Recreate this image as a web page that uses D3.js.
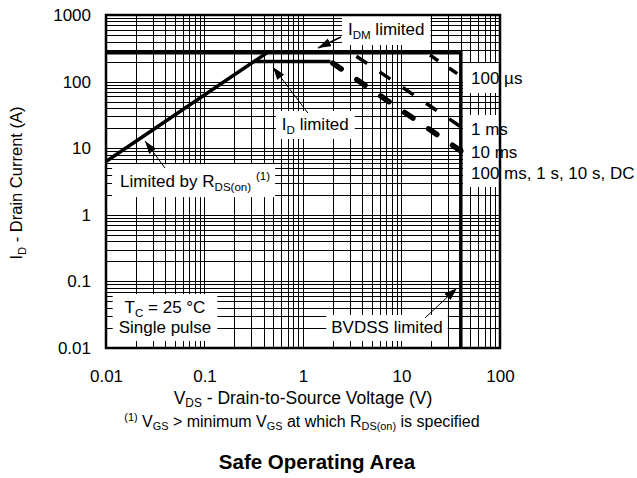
<!DOCTYPE html>
<html><head><meta charset="utf-8">
<script src="https://cdn.jsdelivr.net/npm/d3@7/dist/d3.min.js"></script>
<style>
body{margin:0;background:#fff;}
text{font-family:"Liberation Sans",Arial,Helvetica,sans-serif;fill:#000;}
</style></head><body>
<svg id="c" width="637" height="478"></svg>
<script>
// ---- data ----
const xTicks=[0.01,0.1,1,10,100];
const xTickLabels=["0.01","0.1","1","10","100"];
const yTicks=[0.01,0.1,1,10,100,1000];
const yTickLabels=["0.01","0.1","1","10","100","1000"];
const rdsLimit=[[0.01,6.3],[0.43,270]];
const idmLimit=[[0.01,270],[40,270],[40,0.01]];
const idLimit=[[0.317,200],[1.9,200]];
const pulse100us=[[18,270],[40,121]];
const pulse1ms=[[3.1,270],[40,21]];
const pulse10ms=[[1.9,200],[40,9.1]];
const pulseLabels=["100 µs","1 ms","10 ms","100 ms, 1 s, 10 s, DC"];
const pulseLabelY=[92,15.8,7.1,3.45];

// ---- layout ----
const svg=d3.select("#c");
const x=d3.scaleLog().domain([0.01,100]).range([106,500]);
const y=d3.scaleLog().domain([0.01,1000]).range([348,15]);
const FS=17, SUB=0.68;

function logGrid(lo,hi){const v=[];for(let e=Math.round(Math.log10(lo));e<Math.round(Math.log10(hi));e++)for(let k=1;k<10;k++)v.push(k*Math.pow(10,e));v.push(hi);return v;}

const gGrid=svg.append("g"), gBox=svg.append("g"), gCurve=svg.append("g"), gText=svg.append("g");

gGrid.selectAll("line.v").data(logGrid(0.01,100)).join("line")
 .attr("x1",d=>Math.round(x(d))+0.5).attr("x2",d=>Math.round(x(d))+0.5)
 .attr("y1",y(1000)).attr("y2",y(0.01)).attr("stroke","#000").attr("stroke-width",1);
gGrid.selectAll("line.h").data(logGrid(0.01,1000)).join("line")
 .attr("y1",d=>Math.round(y(d))+0.5).attr("y2",d=>Math.round(y(d))+0.5)
 .attr("x1",x(0.01)).attr("x2",x(100)).attr("stroke","#000").attr("stroke-width",1);

// axes
const ax=svg.append("g").attr("transform",`translate(0,${y(0.01)})`)
 .call(d3.axisBottom(x).tickValues(xTicks).tickFormat((d,i)=>xTickLabels[i]).tickSize(0).tickPadding(22));
const ay=svg.append("g").attr("transform",`translate(${x(0.01)},0)`)
 .call(d3.axisLeft(y).tickValues(yTicks).tickFormat((d,i)=>yTickLabels[i]).tickSize(0).tickPadding(15));
[ax,ay].forEach(a=>{a.select(".domain").remove();a.selectAll("text").attr("font-size",FS).attr("font-family",null);});

// rich text helper
function rich(g,px,py,parts,anchor,size,weight,subShift,supShift){
  size=size||FS; subShift=subShift||4; supShift=supShift||7;
  const t=g.append("text").attr("x",px).attr("y",py).attr("font-size",size).attr("text-anchor",anchor||"start");
  if(weight)t.attr("font-weight",weight);
  let sh=0;
  parts.forEach(p=>{
    const tg=p.sub?subShift:p.sup?-supShift:0;
    const ts=t.append("tspan").attr("dy",tg-sh).text(p.t);
    if(p.sub||p.sup)ts.attr("font-size",size*SUB);
    sh=tg;
  });
  return t;
}
function boxBehind(nodes,pad){
  let x0=1e9,y0=1e9,x1=-1e9,y1=-1e9;
  nodes.forEach(n=>{const b=n.node().getBBox();x0=Math.min(x0,b.x);y0=Math.min(y0,b.y);x1=Math.max(x1,b.x+b.width);y1=Math.max(y1,b.y+b.height);});
  gBox.append("rect").attr("x",x0-pad[3]).attr("y",y0-pad[0]).attr("width",x1-x0+pad[1]+pad[3]).attr("height",y1-y0+pad[0]+pad[2]).attr("fill","#fff");
}

// curves
const line=d3.line().x(d=>x(d[0])).y(d=>y(d[1]));
gCurve.append("path").attr("d",line(rdsLimit)).attr("fill","none").attr("stroke","#000").attr("stroke-width",3.5);
gCurve.append("path").attr("d",line(idmLimit)).attr("fill","none").attr("stroke","#000").attr("stroke-width",3.5);
gCurve.append("path").attr("d",line(idLimit)).attr("fill","none").attr("stroke","#000").attr("stroke-width",3.5);
gCurve.append("path").attr("d",line(pulse100us)).attr("fill","none").attr("stroke","#000").attr("stroke-width",3.5).attr("stroke-dasharray","10,13").attr("stroke-dashoffset",-4);
gCurve.append("path").attr("d",line(pulse1ms)).attr("fill","none").attr("stroke","#000").attr("stroke-width",3.5).attr("stroke-dasharray","13,15").attr("stroke-dashoffset",-6);
gCurve.append("path").attr("d",line(pulse10ms)).attr("fill","none").attr("stroke","#000").attr("stroke-width",5.5).attr("stroke-linecap","round").attr("stroke-dasharray","10,19").attr("stroke-dashoffset",-3);

// border
svg.append("rect").attr("x",x(0.01)).attr("y",y(1000)).attr("width",x(100)-x(0.01)).attr("height",y(0.01)-y(1000))
 .attr("fill","none").attr("stroke","#000").attr("stroke-width",2.5);

// annotations
const tIDM=rich(gText,x(2.86),y(500),[{t:"I"},{t:"DM",sub:true},{t:" limited"}]);
boxBehind([tIDM],[4,6,4,6]);
const tID=rich(gText,x(0.61),y(18.8),[{t:"I"},{t:"D",sub:true},{t:" limited"}]);
boxBehind([tID],[4,6,3,6]);
const tR=rich(gText,x(0.0139),y(2.6),[{t:"Limited by R"},{t:"DS(on)",sub:true},{t:" "},{t:"(1)",sup:true}]);
boxBehind([tR],[6,5,4,8]);
const tT1=rich(gText,x(0.0397),y(0.0335),[{t:"T"},{t:"C",sub:true},{t:" = 25 °C"}],"middle");
const tT2=rich(gText,x(0.0397),y(0.0168),[{t:"Single pulse"}],"middle");
boxBehind([tT1,tT2],[4,6,4,6]);
const tBV=rich(gText,x(7.13),y(0.0168),[{t:"BVDSS limited"}],"middle");
boxBehind([tBV],[3,5,4,5]);
const pl=pulseLabels.map((s,i)=>rich(gText,x(50.8),y(pulseLabelY[i]),[{t:s}]));
boxBehind([pl[0]],[6,4,5,8]);
boxBehind([pl[1],pl[2],pl[3]],[5,4,4,8]);

// arrows
const defs=svg.append("defs");
defs.append("marker").attr("id","ah").attr("viewBox","0 0 12 8").attr("refX",12).attr("refY",4)
 .attr("markerUnits","userSpaceOnUse").attr("markerWidth",13).attr("markerHeight",9).attr("orient","auto")
 .append("path").attr("d","M0,0L12,4L0,8Z").attr("fill","#000");
const arrows=[[[2.43,468],[1.42,320],1.6],[[1.12,33.8],[0.495,166],1],[[0.0397,5.04],[0.0249,12.8],1],[[17.3,0.0282],[36.6,0.0795],1]];
arrows.forEach(a=>{
  gText.append("line").attr("x1",x(a[0][0])).attr("y1",y(a[0][1])).attr("x2",x(a[1][0])).attr("y2",y(a[1][1]))
   .attr("stroke","#000").attr("stroke-width",a[2]).attr("marker-end","url(#ah)");
});

// titles
rich(svg,22,y(3),[{t:"I"},{t:"D",sub:true},{t:" - Drain Current (A)"}],"middle",16.5).attr("transform",`rotate(-90,22,${y(3)})`);
rich(svg,303,404,[{t:"V"},{t:"DS",sub:true},{t:" - Drain-to-Source Voltage (V)"}],"middle",17.5,null,3);
rich(svg,302,427,[{t:"(1)",sup:true},{t:" V"},{t:"GS",sub:true},{t:" > minimum V"},{t:"GS",sub:true},{t:" at which R"},{t:"DS(on)",sub:true},{t:" is specified"}],"middle",16,null,3,6);
rich(svg,317,469,[{t:"Safe Operating Area"}],"middle",20.5,"bold");
</script></body></html>
